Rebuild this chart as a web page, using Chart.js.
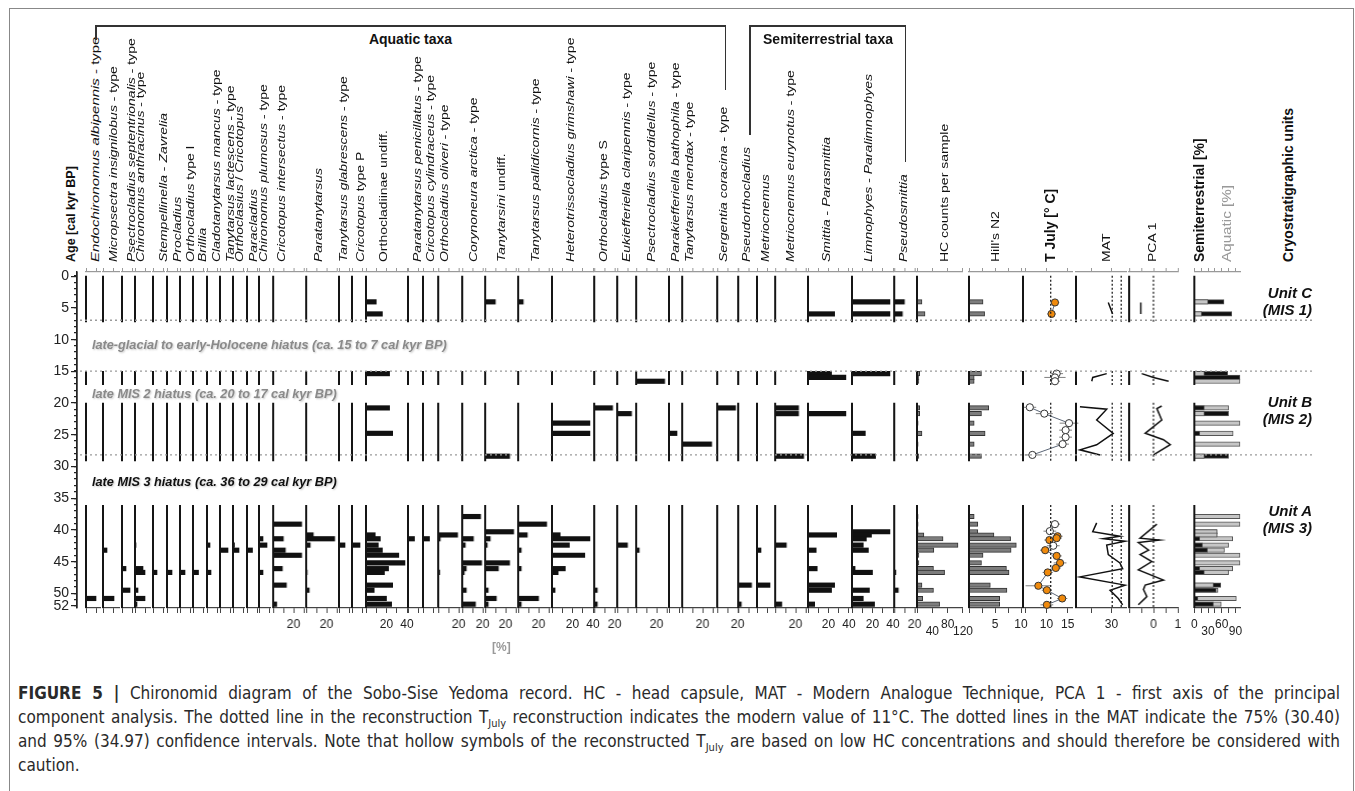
<!DOCTYPE html>
<html>
<head>
<meta charset="utf-8">
<script src="https://cdn.jsdelivr.net/npm/chart.js@4.4.1/dist/chart.umd.min.js"></script>
<style>
  body { margin: 0; background: #fff; width: 1355px; height: 791px; overflow: hidden;
         font-family: 'Liberation Sans', Arial, sans-serif; color: #111; }
  #fig { position: relative; width: 1355px; height: 791px; }
  canvas { position: absolute; }
  .line { position: absolute; background: #333; }
  .vl { position: absolute; white-space: nowrap; transform-origin: 0 0; font-size: 11px; line-height: 13px; color: #111; }
  .vl.bold { font-weight: bold; font-size: 14px; line-height: 16px; }
  .hdr { position: absolute; font-weight: bold; font-size: 14px; white-space: nowrap; transform: translateX(-50%); }
  .hiatus { position: absolute; font-weight: bold; font-style: italic; font-size: 12.7px; line-height: 15px;
            white-space: nowrap; text-shadow: 1px 1px 2px #c8c8c8; }
  .unit { position: absolute; font-weight: bold; font-style: italic; font-size: 15px; line-height: 17px;
          text-align: right; width: 90px; }
  #cap { position: absolute; left: 18px; top: 681px; width: 1322px;
         font-family: 'Liberation Sans Narrow', 'DejaVu Sans Condensed', 'Roboto', sans-serif; font-size: 17px; color: #2a2a2a; }
  .cl { white-space: nowrap; height: 24px; line-height: 24px; text-align: justify; text-align-last: justify; }
  .cl.last { text-align-last: left; }
  sub { font-size: 11px; line-height: 0; }
</style>
</head>
<body>
<div id="fig"></div>
<script>
// ---------- data ----------
// samples: unit C (2) | unit B upper (3) | unit B lower (6) | unit A (15)
const sampleAges = [4.1, 6.0, 15.4, 16.0, 16.6, 20.8, 21.7, 23.2, 24.8, 26.5, 28.4,
  37.9, 39.1, 40.3, 40.8, 41.4, 42.4, 43.2, 44.0, 45.2, 46.1, 46.7, 48.7, 49.5, 50.8, 51.7];

const endochironomus = [0,0, 0,0,0, 0,0,0,0,0,0, 0,0,0,0,0,0,0,0,0,0,0,0,0,10,0];
const micropsectra   = [0,0, 0,0,0, 0,0,0,0,0,0, 0,0,0,0,0,0,4,0,0,0,0,0,0,11,0];
const psectSept      = [0,0, 0,0,0, 0,0,0,0,0,0, 0,0,0,0,0,0,0,0,0,4,0,0,8,0,0];
const chirAnth       = [0,0, 0,0,0, 0,0,0,0,0,0, 0,0,0,0,0,1,0,0,0,8,10,0,3,10,2];
const stempellinella = [0,0, 0,0,0, 0,0,0,0,0,0, 0,0,0,0,0,0,0,0,0,0,4,0,0,0,0];
const procladius     = [0,0, 0,0,0, 0,0,0,0,0,0, 0,0,0,0,0,0,0,0,0,0,5,0,0,0,0];
const orthoTypeI     = [0,0, 0,0,0, 0,0,0,0,0,0, 0,0,0,0,0,0,0,0,0,0,5,0,0,0,0];
const brillia        = [0,0, 0,0,0, 0,0,0,0,0,0, 0,0,0,0,0,0,0,0,0,0,5.5,0,0,0,0];
const cladotany      = [0,0, 0,0,0, 0,0,0,0,0,0, 0,0,0,0,0,3,0,0,0,0,4,0,0,0,0];
const tanyLact       = [0,0, 0,0,0, 0,0,0,0,0,0, 0,0,0,0,0,0,8,0,0,0,0,0,0,0,0];
const orthoclasius   = [0,0, 0,0,0, 0,0,0,0,0,0, 0,0,0,0,0,1.5,6,0,0,0,0,0,0,0,0];
const paracladius    = [0,0, 0,0,0, 0,0,0,0,0,0, 0,0,0,0,0,0,5.5,0,0,0,0,0,0,0,0];
const chirPlum       = [0,0, 0,0,0, 0,0,0,0,0,0, 0,0,0,0,4,8,0,0,0,0,4,0,0,0,0];
const cricInter      = [0,0, 0,0,0, 0,0,0,0,0,0, 0,28,0,0,10,0,12,28,0,9,0,13,0,0,3.5];
const paratany       = [0,0, 0,0,0, 0,0,0,0,0,0, 0,0,0,7,28,4,0,0,0,0,1,0,3,0,0];
const tanyGlab       = [0,0, 0,0,0, 0,0,0,0,0,0, 0,0,0,0,0,6,0,0,0,0,0,0,0,0,0];
const cricTypeP      = [0,0, 0,0,0, 0,0,0,0,0,0, 0,0,0,0,0,8,0,0,0,0,0,0,0,0,0];
const orthocladiinae = [10,16, 23,0,0, 23,0,0,26,0,0, 0,0,0,9,14,12,16,32,38,22,18,26,8,20,25];
const paraPenic      = [0,0, 0,0,0, 0,0,0,0,0,0, 0,0,0,0,6.5,0,0,0,0,0,0,0,0,0,0];
const cricCylin      = [0,0, 0,0,0, 0,0,0,0,0,0, 0,0,0,0,6.5,0,0,0,0,0,0,0,0,0,0];
const orthoOliveri   = [0,0, 0,0,0, 0,0,0,0,0,0, 0,0,0,19,2,0,0,0,0,0,1.5,0,0,0,0];
const corynoneura    = [0,0, 0,0,0, 0,0,0,0,0,0, 18,0,0,0,11,3,0,0,19,4,2,0,4,0,13];
const tanytarsini    = [10,0, 0,0,0, 0,0,0,0,0,24, 0,0,28,0,5,2,0,0,24,13,0,0,3,11,3];
const tanyPallid     = [5,0, 0,0,0, 0,0,0,0,0,0, 0,28,0,9,0,0,3,0,0,3,0,0,0,20,3];
const heterotriss    = [0,0, 0,0,0, 0,0,37,37,0,0, 0,0,0,8,37,17,0,32,0,13,6,0,3,0,0];
const orthoTypeS     = [0,0, 0,0,0, 18,0,0,0,0,0, 0,0,0,0,0,0,0,0,0,0,0,0,3,0,3];
const eukiefferiella = [0,0, 0,0,0, 0,14,0,0,0,0, 0,0,0,0,0,10,0,0,0,0,0,0,0,0,0];
const psectSord      = [0,0, 0,0,28, 0,0,0,0,0,0, 0,0,0,0,0,0,3,0,0,0,0,0,0,0,0];
const parakiefferiella = [0,0, 0,0,0, 0,0,0,8,0,0, 0,0,0,0,0,0,0,0,0,0,0,0,0,0,0];
const tanyMendax     = [0,0, 0,0,0, 0,0,0,0,29,0, 0,0,0,0,0,0,0,0,0,0,0,0,0,0,0];
const sergentia      = [0,0, 0,0,0, 18,0,0,0,0,0, 0,0,0,0,0,0,0,0,0,0,0,0,0,0,0];
const pseudortho     = [0,0, 0,0,0, 0,0,0,0,0,0, 0,0,0,0,0,0,0,0,0,0,0,13,0,0,3];
const metriocnemus   = [0,0, 0,0,0, 0,0,0,0,0,0, 0,0,0,0,0,0,4,0,0,0,0,13,0,0,0];
const metrEurynotus  = [0,0, 0,0,0, 23,23,0,0,0,28, 0,0,0,0,0,11,0,0,0,0,0,0,0,0,6.5];
const smittia        = [0,26, 23,37,0, 0,37,0,0,0,0, 0,0,0,28,0,0,8,0,0,9,0,26,23,0,6.5];
const limnophyes     = [37,37, 37,0,0, 0,0,0,13,0,23, 0,0,37,19,14,11,16,0,0,3,20,0,17,11,22];
const pseudosmittia  = [10,8, 0,0,0, 0,0,0,0,0,0, 0,0,0,0,0,0,0,0,0,0,1.6,0,4,0,0];

const taxaNames = [
  'Endochironomus albipennis - type', 'Micropsectra insignilobus - type', 'Psectrocladius septentrionalis - type',
  'Chironomus anthracinus - type', 'Stempellinella - Zavrelia', 'Procladius', 'Orthocladius type I', 'Brillia',
  'Cladotanytarsus mancus - type', 'Tanytarsus lactescens - type', 'Orthoclasius / Cricotopus', 'Paracladius',
  'Chironomus plumosus - type', 'Cricotopus intersectus - type', 'Paratanytarsus', 'Tanytarsus glabrescens - type',
  'Cricotopus type P', 'Orthocladiinae undiff.', 'Paratanytarsus penicillatus - type', 'Cricotopus cylindraceus - type',
  'Orthocladius oliveri - type', 'Corynoneura arctica - type', 'Tanytarsini undiff.', 'Tanytarsus pallidicornis - type',
  'Heterotrissocladius grimshawi - type', 'Orthocladius type S', 'Eukiefferiella claripennis - type',
  'Psectrocladius sordidellus - type', 'Parakiefferiella bathophila - type', 'Tanytarsus mendax - type',
  'Sergentia coracina - type', 'Pseudorthocladius', 'Metriocnemus', 'Metriocnemus eurynotus - type',
  'Smittia - Parasmittia', 'Limnophyes - Paralimnophyes', 'Pseudosmittia'];
const taxaValues = [endochironomus, micropsectra, psectSept, chirAnth, stempellinella, procladius, orthoTypeI, brillia,
  cladotany, tanyLact, orthoclasius, paracladius, chirPlum, cricInter, paratany, tanyGlab, cricTypeP, orthocladiinae,
  paraPenic, cricCylin, orthoOliveri, corynoneura, tanytarsini, tanyPallid, heterotriss, orthoTypeS, eukiefferiella,
  psectSord, parakiefferiella, tanyMendax, sergentia, pseudortho, metriocnemus, metrEurynotus, smittia, limnophyes,
  pseudosmittia];
const taxaAxisMax = [14, 16, 11, 15, 11, 11, 11, 11, 11, 11, 11, 10, 11, 30, 30, 11, 12, 40, 13, 13, 21, 20, 30, 31,
  40, 21, 17, 30, 11, 32, 20, 17, 16, 31, 42, 40, 21];

const hcCounts = [13,21, 7,5,5, 7,7,3,13,3,5, 3,3,3,18,68,107,44,5,5,43,72,13,43,15,59];
const hillsN2  = [2.7,3.0, 2.4,1.0,1.0, 3.8,2.4,1.0,3.1,1.0,2.4, 1.0,1.7,1.7,4.8,8.0,9.1,8.1,2.7,2.4,7.2,7.7,4.1,7.3,5.9,5.9];
const semiterrestrialPct = [65,82, 73,100,0, 22,75,0,12,0,75, 0,0,50,50,12,18,29,0,0,12,22,58,48,8,42];
const aquaticPct         = [30,16, 22,0,100, 75,22,100,85,100,22, 100,100,50,50,84,75,66,100,100,84,75,42,52,92,59];

const tJulyAges = [4.2, 6.0, 15.4, 16.0, 16.6, 20.7, 21.7, 23.2, 24.3, 25.4, 26.5, 28.2,
  39.1, 40.2, 41.0, 41.3, 41.6, 42.5, 43.2, 44.1, 45.2, 46.0, 46.7, 48.8, 49.5, 50.8, 51.8];
const tJuly = [12.0, 11.2, 12.4, 12.0, 12.0, 6.1, 9.5, 15.3, 14.5, 14.5, 13.8, 6.7,
  12.0, 10.8, 12.6, 12.4, 10.7, 11.6, 9.7, 12.4, 13.2, 12.2, 10.3, 8.1, 10.1, 13.7, 10.1];
const tJulyErr = [1.0, 1.0, 1.5, 2.5, 1.2, 1.5, 2.0, 2.2, 1.5, 1.5, 1.5, 1.8,
  1.2, 1.5, 1.2, 1.2, 1.2, 1.5, 1.2, 1.2, 1.5, 1.2, 1.2, 3.0, 1.2, 1.2, 1.5];
const tJulyLowCount = [0,0, 1,1,1, 1,1,1,1,1,1,1, 1,1,0,0,0,1,0,0,0,0,0,0,0,0,0];
const tJulyModern = 11;

const matAges = [4.2, 6.0, 15.4, 16.0, 16.6, 20.6, 21.0, 22.7, 24.8, 26.6, 27.4, 28.2,
  38.9, 40.3, 41.0, 41.4, 41.8, 42.4, 43.9, 45.2, 46.1, 47.4, 48.7, 49.5, 50.8, 51.8];
const matValues = [28.4, 30.6, 27.6, 20.5, 20.0, 14.0, 27.6, 22.5, 30.9, 22.5, 14.0, 24.2,
  22.5, 20.5, 34.3, 25.9, 36.9, 27.6, 28.4, 34.3, 35.7, 14.0, 36.9, 29.3, 33.5, 35.7];
const matConfidence = [30.40, 34.97];

const pcaAges = [4.2, 6.0, 15.4, 16.0, 16.6, 20.5, 20.9, 22.7, 24.8, 25.8, 26.6, 28.2,
  39.1, 41.3, 41.6, 42.0, 43.2, 43.9, 45.0, 46.3, 47.9, 48.7, 49.4, 50.5, 51.8];
const pcaValues = [-0.52, -0.52, -0.48, 0, 0.62, 0.34, 0.14, 0.34, -0.34, 0.41, 0.69, 0,
  0.14, -0.55, 0.25, -0.62, -0.2, -0.55, -0.07, -0.62, 0.41, -0.34, -0.41, -0.27, -0.62];

const unitSpans = [[0, 7.3], [15.0, 17.2], [20.0, 29.2], [36.1, 52.3]];
const hiatusLines = [7.0, 15.0, 28.2];
const ageTicksMajor = [0, 5, 10, 15, 20, 25, 30, 35, 40, 45, 50, 52];
const ageTicksMinor = Array.from({length: 53}, (_, i) => i);

// ---------- layout ----------
const taxaBaseX = [86, 103, 122, 135, 153, 167, 180, 193, 207, 220, 233, 247, 259, 273, 306, 339, 352, 366, 408, 423,
  438, 462, 485, 518, 552, 594, 617, 636, 669, 682, 717, 738, 757, 775, 808, 852, 894];
const taxaLabelX = [95.7, 113, 131.7, 140, 163, 177, 190, 202.7, 216.7, 230, 239.3, 253.3, 263.3, 281.7, 318.3, 343.3,
  360.7, 383.3, 417.3, 430, 444, 473.3, 501, 535, 570, 603.3, 626, 651.7, 675, 689.3, 723.3, 746.7, 765, 790, 826.7,
  868.3, 903.3];
const PX_PER_PCT = 1.03;
const TOP = 262, AXT = 10, AXB = 34, AREA = 336, CANVAS_H = AXT + AREA + AXB;
const PADL = 8, PADR = 16;
const AGE_MIN = -0.6, AGE_MAX = 52.3;
const FONT = "'Liberation Sans', Arial, sans-serif";
const fig = document.getElementById('fig');

Chart.defaults.font.family = FONT;

function addCanvas(left, width) {
  const c = document.createElement('canvas');
  c.width = width; c.height = CANVAS_H;
  c.style.left = left + 'px'; c.style.top = TOP + 'px';
  c.style.width = width + 'px'; c.style.height = CANVAS_H + 'px';
  fig.appendChild(c);
  return c;
}

function spanPoints(x) {
  const pts = [];
  unitSpans.forEach(([a, b]) => { pts.push({x, y: a}, {x, y: b}, {x: null, y: null}); });
  return pts;
}

function seriesPoints(ages, vals) {
  const pts = [];
  ages.forEach((a, i) => {
    if (i > 0 && a - ages[i - 1] > 3) pts.push({x: null, y: null});
    pts.push({x: vals[i], y: a});
  });
  return pts;
}

function baselineDs(x) {
  return {type: 'line', data: spanPoints(x), borderColor: '#151515', borderWidth: 2, pointRadius: 0,
          spanGaps: false, clip: false, order: 0};
}
function dottedDs(x) {
  return {type: 'line', data: spanPoints(x), borderColor: '#222', borderWidth: 1.3, borderDash: [2, 2],
          pointRadius: 0, spanGaps: false, clip: false, order: 0};
}
function barDs(vals, color, border, order) {
  return {type: 'bar', data: sampleAges.map((a, i) => ({x: vals[i], y: a})).filter(p => p.x > 0),
          backgroundColor: color, borderColor: border || color, borderWidth: border ? 1 : 0,
          barThickness: 4.5, grouped: false, clip: false, order: order || 1};
}

function panel(p) {
  const width = p.width;
  const c = addCanvas(p.x - PADL, width + PADL + PADR);
  const tickFn = s => { s.ticks = p.ticks.map(v => ({value: v})); };
  return new Chart(c, {
    type: 'bar',
    data: {datasets: p.datasets},
    options: {
      responsive: false, animation: false, events: [], indexAxis: 'y',
      layout: {padding: {left: PADL, right: PADR, top: 0, bottom: 0}},
      plugins: {legend: {display: false}, tooltip: {enabled: false}},
      scales: {
        y: {type: 'linear', min: AGE_MIN, max: AGE_MAX, reverse: true, display: false, offset: false},
        x: {type: 'linear', position: 'bottom', min: p.min, max: p.max, offset: false,
            afterFit: s => { s.height = AXB; }, afterBuildTicks: tickFn,
            grid: {drawOnChartArea: false, tickLength: 5, color: '#444'},
            border: {color: '#444', width: 1.2},
            ticks: {autoSkip: false, maxRotation: 0, minRotation: 0, padding: p.padding || 4, color: '#222',
                    font: {size: 12, lineHeight: p.lineHeight || 1.2}, callback: v => p.label(v)}},
        x2: {type: 'linear', position: 'top', min: p.min, max: p.max, offset: false,
             afterFit: s => { s.height = AXT; }, afterBuildTicks: tickFn,
             grid: {drawOnChartArea: false, tickLength: 4, color: '#999'},
             border: {color: '#999', width: 1.2},
             ticks: {display: false}}
      }
    }
  });
}

// taxa panels
taxaNames.forEach((name, i) => {
  const max = taxaAxisMax[i];
  const ticks = [];
  for (let v = 0; v <= max; v += 10) ticks.push(v);
  panel({x: taxaBaseX[i], width: max * PX_PER_PCT, min: 0, max, ticks,
         label: v => (v > 0 && v % 20 === 0) ? String(v) : '',
         datasets: [baselineDs(0), barDs(taxaValues[i], '#111')]});
});

// HC counts
panel({x: 917, width: 48, min: 0, max: 120, ticks: [0, 40, 80, 120], lineHeight: 0.62, padding: 8,
       label: v => v === 80 ? '80' : (v === 40 || v === 120) ? ['', String(v)] : '',
       datasets: [baselineDs(0), barDs(hcCounts, '#7d7d7d', '#333')]});
// Hill's N2
panel({x: 969, width: 52, min: 0, max: 10, ticks: [0, 2.5, 5, 7.5, 10],
       label: v => (v === 5 || v === 10) ? String(v) : '',
       datasets: [baselineDs(0), barDs(hillsN2, '#7d7d7d', '#333')]});
// T July with error bars
const tjPts = seriesPoints(tJulyAges, tJuly);
let k = 0;
const tjFill = tjPts.map(p => p.y === null ? '#fff' : (tJulyLowCount[k++] ? '#fff' : '#f08a0c'));
const errPts = [];
tJulyAges.forEach((a, i) => {
  errPts.push({x: tJuly[i] - tJulyErr[i], y: a}, {x: tJuly[i] + tJulyErr[i], y: a}, {x: null, y: null});
});
panel({x: 1023, width: 49, min: 4.5, max: 16, ticks: [5, 10, 15],
       label: v => (v === 10 || v === 15) ? String(v) : '',
       datasets: [baselineDs(4.5), dottedDs(tJulyModern),
         {type: 'line', data: errPts, borderColor: '#808080', borderWidth: 1, pointRadius: 0,
          spanGaps: false, clip: false, order: 2},
         {type: 'line', data: tjPts, borderColor: '#5b6677', borderWidth: 1, pointRadius: 3.6,
          pointBackgroundColor: tjFill, pointBorderColor: '#333', pointBorderWidth: 1,
          spanGaps: false, clip: false, order: 0}]});
// MAT
panel({x: 1076, width: 50, min: 12, max: 37.4, ticks: [20, 30],
       label: v => v === 30 ? '30' : '',
       datasets: [baselineDs(12), dottedDs(matConfidence[0]), dottedDs(matConfidence[1]),
         {type: 'line', data: seriesPoints(matAges, matValues), borderColor: '#111', borderWidth: 1.5,
          pointRadius: 0, spanGaps: false, clip: false, order: 0}]});
// PCA 1
panel({x: 1129, width: 48.6, min: -1, max: 1, ticks: [-1, -0.5, 0, 0.5, 1],
       label: v => v === 0 ? '0' : v === 1 ? '1' : '',
       datasets: [baselineDs(-1), dottedDs(0),
         {type: 'line', data: seriesPoints(pcaAges, pcaValues), borderColor: '#111', borderWidth: 1.5,
          pointRadius: 0, spanGaps: false, clip: false, order: 0}]});
// Semiterrestrial / aquatic: the shorter bar sits in front
const longVals = sampleAges.map((a, i) => Math.max(semiterrestrialPct[i], aquaticPct[i]));
const shortVals = sampleAges.map((a, i) => Math.min(semiterrestrialPct[i], aquaticPct[i]));
const longCol = sampleAges.map((a, i) => semiterrestrialPct[i] >= aquaticPct[i] ? '#111' : '#c6c6c6');
const shortCol = sampleAges.map((a, i) => semiterrestrialPct[i] >= aquaticPct[i] ? '#c6c6c6' : '#111');
function colorBars(vals, cols, order) {
  const idx = sampleAges.map((a, i) => i).filter(i => vals[i] > 0);
  return {type: 'bar', data: idx.map(i => ({x: vals[i], y: sampleAges[i]})),
          backgroundColor: idx.map(i => cols[i]), borderColor: '#555', borderWidth: 1,
          barThickness: 4.5, grouped: false, clip: false, order};
}
panel({x: 1191, width: 49, min: 0, max: 100, ticks: [0, 15, 30, 45, 60, 75, 90], lineHeight: 0.62, padding: 8,
       label: v => (v === 0 || v === 60) ? String(v) : (v === 30 || v === 90) ? ['', String(v)] : '',
       datasets: [baselineDs(0), colorBars(longVals, longCol, 3), colorBars(shortVals, shortCol, 2)]});

// Age axis (minor + major ticks)
function ageAxis(ticks, len, labels) {
  const c = addCanvas(0, 80);
  new Chart(c, {
    type: 'line', data: {datasets: []},
    options: {
      responsive: false, animation: false, events: [],
      layout: {padding: {top: AXT, bottom: AXB, left: 0, right: 0}},
      plugins: {legend: {display: false}, tooltip: {enabled: false}},
      scales: {
        x: {type: 'linear', display: false, min: 0, max: 1},
        y: {type: 'linear', position: 'left', min: AGE_MIN, max: AGE_MAX, reverse: true, offset: false,
            afterFit: s => { s.width = 77; },
            afterBuildTicks: s => { s.ticks = ticks.map(v => ({value: v})); },
            grid: {drawOnChartArea: false, tickLength: len, color: '#222', lineWidth: 1.2},
            border: {color: '#222', width: 1.5},
            ticks: {display: labels, autoSkip: false, padding: 2, color: '#222', font: {size: 14},
                    callback: v => String(v)}}
      }
    }
  });
}
ageAxis(ageTicksMinor, 3, false);
ageAxis(ageTicksMajor, 6, true);

// hiatus dotted lines across the diagram
(function () {
  const c = addCanvas(80, 1233);
  c.style.pointerEvents = 'none';
  new Chart(c, {
    type: 'line',
    data: {datasets: hiatusLines.map(h => ({data: [{x: 0, y: h}, {x: 1, y: h}], borderColor: '#9a9a9a',
           borderWidth: 1.3, borderDash: [2, 3], pointRadius: 0}))},
    options: {
      responsive: false, animation: false, events: [],
      layout: {padding: {top: AXT, bottom: AXB, left: 0, right: 0}},
      plugins: {legend: {display: false}, tooltip: {enabled: false}},
      scales: {
        x: {type: 'linear', display: false, min: 0, max: 1},
        y: {type: 'linear', display: false, min: AGE_MIN, max: AGE_MAX, reverse: true}
      }
    }
  });
})();

// ---------- text ----------
const UPRIGHT = new Set(['-', '/', 'type', 'undiff.', 'I', 'P', 'S', 'Orthocladiinae']);
function styledName(n) {
  return n.split(' ').map(w => UPRIGHT.has(w) ? w : '<i>' + w + '</i>').join(' ');
}
function vlabel(html, cx, bold, opts) {
  const d = document.createElement('div');
  d.className = 'vl' + (bold ? ' bold' : '');
  d.innerHTML = html;
  const lh = bold ? 16 : 13;
  d.style.left = (cx - lh / 2) + 'px';
  d.style.top = '262px';
  const sx = (opts && opts.sx) || (bold ? 1 : 1.27);
  d.style.transform = 'rotate(-90deg) scaleX(' + sx + ')';
  if (opts && opts.color) d.style.color = opts.color;
  if (opts && opts.size) d.style.fontSize = opts.size + 'px';
  fig.appendChild(d);
}
taxaNames.forEach((n, i) => vlabel(styledName(n), taxaLabelX[i], false, i === 0 ? {sx: 1.36} : null));
vlabel('Age [cal kyr BP]', 70.7, true, {size: 12.5});
vlabel('HC counts per sample', 944.3, false);
vlabel("Hill's N2", 995, false);
vlabel('T July [° C]', 1050, true);
vlabel('MAT', 1106.7, false);
vlabel('PCA 1', 1152.7, false);
vlabel('Semiterrestrial [%]', 1199, true);
vlabel('Aquatic [%]', 1227.7, false, {color: '#999', size: 12});
vlabel('Cryostratigraphic units', 1288, true);

function addDiv(cls, html, style) {
  const d = document.createElement('div');
  if (cls) d.className = cls;
  d.innerHTML = html;
  Object.assign(d.style, style);
  fig.appendChild(d);
  return d;
}
// frame
addDiv('line', '', {left: '9px', top: '8px', width: '1345px', height: '1px', background: '#888'});
addDiv('line', '', {left: '9px', top: '8px', width: '1px', height: '783px', background: '#888'});
addDiv('line', '', {left: '1353px', top: '8px', width: '1px', height: '783px', background: '#888'});
// group brackets
addDiv('line', '', {left: '95px', top: '25px', width: '631px', height: '1.5px'});
addDiv('line', '', {left: '95px', top: '25px', width: '1.5px', height: '15px'});
addDiv('line', '', {left: '724.5px', top: '25px', width: '1.5px', height: '65px'});
addDiv('line', '', {left: '749px', top: '25px', width: '157px', height: '1.5px'});
addDiv('line', '', {left: '749px', top: '25px', width: '1.5px', height: '110px'});
addDiv('line', '', {left: '904.5px', top: '25px', width: '1.5px', height: '137px'});
addDiv('hdr', 'Aquatic taxa', {left: '410.5px', top: '31px'});
addDiv('hdr', 'Semiterrestrial taxa', {left: '828px', top: '31px'});
// hiatus notes
addDiv('hiatus', 'late-glacial to early-Holocene hiatus (ca. 15 to 7 cal kyr BP)', {left: '92px', top: '338px', color: '#8a8a8a'});
addDiv('hiatus', 'late MIS 2 hiatus (ca. 20 to 17 cal kyr BP)', {left: '92px', top: '387px', color: '#8a8a8a'});
addDiv('hiatus', 'late MIS 3 hiatus (ca. 36 to 29 cal kyr BP)', {left: '92px', top: '475px', color: '#111'});
// units
addDiv('unit', 'Unit C<br>(MIS 1)', {left: '1222px', top: '284px'});
addDiv('unit', 'Unit B<br>(MIS 2)', {left: '1222px', top: '393px'});
addDiv('unit', 'Unit A<br>(MIS 3)', {left: '1222px', top: '502px'});
// [%]
addDiv('', '[%]', {position: 'absolute', left: '492px', top: '640px', fontWeight: 'bold', fontSize: '12px', color: '#999'});

// caption
addDiv('', '', {}).id = 'cap';
document.getElementById('cap').innerHTML =
  '<div class="cl"><b>FIGURE 5 |</b> Chironomid diagram of the Sobo-Sise Yedoma record. HC - head capsule, MAT - Modern Analogue Technique, PCA 1 - first axis of the principal</div>' +
  '<div class="cl">component analysis. The dotted line in the reconstruction T<sub>July</sub> reconstruction indicates the modern value of 11°C. The dotted lines in the MAT indicate the 75% (30.40)</div>' +
  '<div class="cl">and 95% (34.97) confidence intervals. Note that hollow symbols of the reconstructed T<sub>July</sub> are based on low HC concentrations and should therefore be considered with</div>' +
  '<div class="cl last">caution.</div>';
</script>
</body>
</html>
